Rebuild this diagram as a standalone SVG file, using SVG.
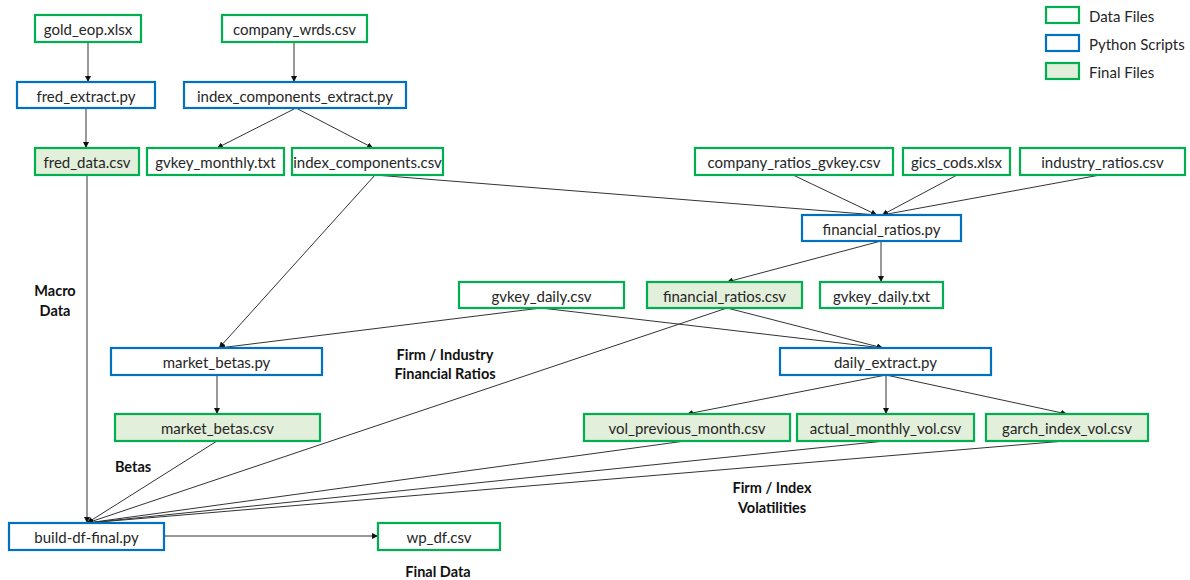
<svg xmlns="http://www.w3.org/2000/svg" width="1190" height="580" viewBox="0 0 1190 580">
<style>
.d{fill:#fff;stroke:#00b050;stroke-width:2.2}
.p{fill:#fff;stroke:#0070c0;stroke-width:2.2}
.f{fill:#e2efda;stroke:#00b050;stroke-width:2.2}
text{font-family:Lato,"Liberation Sans",sans-serif;font-size:15px;fill:#262626;text-anchor:middle;dominant-baseline:central}
.lb{font-weight:bold;font-size:14.5px;fill:#111}
.lg{text-anchor:start}
#edges line{stroke:#333;stroke-width:1;marker-end:url(#ah)}
</style>
<defs>
<marker id="ah" viewBox="0 0 10 10" refX="10" refY="5" markerWidth="6" markerHeight="6" orient="auto" markerUnits="userSpaceOnUse"><path d="M0,0L10,5L0,10z" fill="#111"/></marker>
</defs>
<rect width="1190" height="580" fill="#fff"/>
<g id="legend">
<rect class="d" x="1046" y="7" width="33" height="16"/><text class="lg" x="1089" y="16">Data Files</text>
<rect class="p" x="1046" y="35" width="33" height="16"/><text class="lg" x="1089" y="44">Python Scripts</text>
<rect class="f" x="1046" y="63" width="33" height="16"/><text class="lg" x="1089" y="72">Final Files</text>
</g>
<g id="edges">
<line x1="88" y1="42" x2="88" y2="82"/>
<line x1="294" y1="42" x2="294" y2="82"/>
<line x1="86" y1="108" x2="86" y2="148"/>
<line x1="296" y1="108" x2="217" y2="148"/>
<line x1="296" y1="108" x2="373" y2="148"/>
<line x1="87" y1="175" x2="87" y2="523"/>
<line x1="375" y1="175" x2="877" y2="215"/>
<line x1="375" y1="175" x2="219" y2="348"/>
<line x1="793" y1="175" x2="877" y2="215"/>
<line x1="957" y1="175" x2="882" y2="215"/>
<line x1="1100" y1="175" x2="882" y2="215"/>
<line x1="881" y1="241" x2="727" y2="282"/>
<line x1="881" y1="241" x2="881" y2="282"/>
<line x1="541" y1="308" x2="219" y2="348"/>
<line x1="541" y1="308" x2="883" y2="348"/>
<line x1="727" y1="308" x2="883" y2="348"/>
<line x1="727" y1="308" x2="87" y2="523"/>
<line x1="217" y1="375" x2="217" y2="414"/>
<line x1="886" y1="375" x2="687" y2="414"/>
<line x1="886" y1="375" x2="886" y2="414"/>
<line x1="886" y1="375" x2="1067" y2="414"/>
<line x1="217" y1="441" x2="87" y2="523"/>
<line x1="685" y1="441" x2="87" y2="523"/>
<line x1="885" y1="441" x2="87" y2="523"/>
<line x1="1065" y1="441" x2="87" y2="523"/>
<line x1="164" y1="536" x2="378" y2="536"/>
</g>
<g id="n-gold"><rect class="d" x="35" y="15" width="106" height="27"/><text x="88" y="29">gold_eop.xlsx</text></g>
<g id="n-company"><rect class="d" x="222" y="15" width="145" height="27"/><text x="294.5" y="29">company_wrds.csv</text></g>
<g id="n-fredx"><rect class="p" x="17" y="82" width="138" height="26"/><text x="86" y="95.5">fred_extract.py</text></g>
<g id="n-icx"><rect class="p" x="184" y="82" width="222" height="26"/><text x="295" y="95.5">index_components_extract.py</text></g>
<g id="n-fred"><rect class="f" x="35" y="148" width="104" height="27"/><text x="87" y="162">fred_data.csv</text></g>
<g id="n-gvm"><rect class="d" x="147" y="148" width="137" height="27"/><text x="215.5" y="162">gvkey_monthly.txt</text></g>
<g id="n-ic"><rect class="d" x="292" y="148" width="151" height="27"/><text x="367.5" y="162">index_components.csv</text></g>
<g id="n-crg"><rect class="d" x="695" y="148" width="198" height="27"/><text x="794" y="162">company_ratios_gvkey.csv</text></g>
<g id="n-gics"><rect class="d" x="903" y="148" width="107" height="27"/><text x="956.5" y="162">gics_cods.xlsx</text></g>
<g id="n-ir"><rect class="d" x="1020" y="148" width="165" height="27"/><text x="1102.5" y="162">industry_ratios.csv</text></g>
<g id="n-frpy"><rect class="p" x="802" y="215" width="159" height="26"/><text x="881.5" y="228.5">financial_ratios.py</text></g>
<g id="n-gvd"><rect class="d" x="459" y="282" width="165" height="26"/><text x="541.5" y="295.5">gvkey_daily.csv</text></g>
<g id="n-frcsv"><rect class="f" x="647" y="282" width="155" height="26"/><text x="724.5" y="295.5">financial_ratios.csv</text></g>
<g id="n-gvdt"><rect class="d" x="820" y="282" width="123" height="26"/><text x="881.5" y="295.5">gvkey_daily.txt</text></g>
<g id="n-mbpy"><rect class="p" x="111" y="348" width="211" height="27"/><text x="216.5" y="362">market_betas.py</text></g>
<g id="n-de"><rect class="p" x="780" y="348" width="211" height="27"/><text x="885.5" y="362">daily_extract.py</text></g>
<g id="n-mbcsv"><rect class="f" x="115" y="414" width="205" height="27"/><text x="217.5" y="428">market_betas.csv</text></g>
<g id="n-vpm"><rect class="f" x="584" y="414" width="206" height="27"/><text x="687" y="428">vol_previous_month.csv</text></g>
<g id="n-amv"><rect class="f" x="797" y="414" width="177" height="27"/><text x="885.5" y="428">actual_monthly_vol.csv</text></g>
<g id="n-giv"><rect class="f" x="986" y="414" width="162" height="27"/><text x="1067" y="428">garch_index_vol.csv</text></g>
<g id="n-build"><rect class="p" x="9" y="523" width="155" height="27"/><text x="86.5" y="537">build-df-final.py</text></g>
<g id="n-wp"><rect class="d" x="378" y="523" width="122" height="27"/><text x="439" y="537">wp_df.csv</text></g>
<g id="labels">
<text class="lb" x="55" y="290">Macro</text><text class="lb" x="55" y="310">Data</text>
<text class="lb" x="445" y="354">Firm / Industry</text><text class="lb" x="445" y="373">Financial Ratios</text>
<text class="lb" x="133" y="466">Betas</text>
<text class="lb" x="772" y="487">Firm / Index</text><text class="lb" x="772" y="507">Volatilities</text>
<text class="lb" x="438" y="571">Final Data</text>
</g>
</svg>
